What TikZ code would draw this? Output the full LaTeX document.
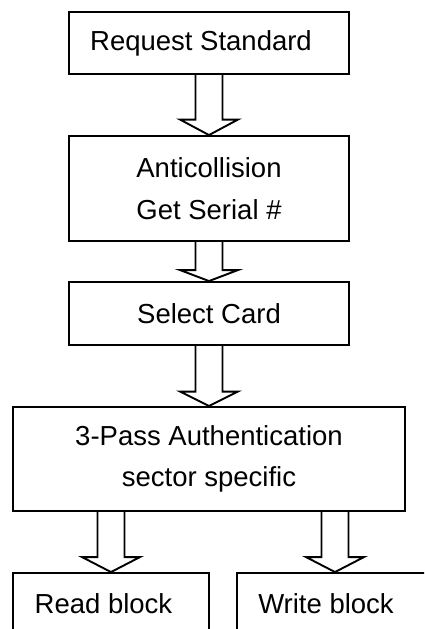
\documentclass[tikz,border=0pt]{standalone}
\usepackage{fontspec}
\setmainfont{Liberation Sans}
\usetikzlibrary{calc}
\newcommand{\blockarrow}[3]{%
\draw ($(#2.north |- #1.south)+(-13.5,0)$)--($(#2.north)+(-13.5,#3)$)--($(#2.north)+(-29,#3)$)--(#2.north)--($(#2.north)+(29,#3)$)--($(#2.north)+(13.5,#3)$)--($(#2.north |- #1.south)+(13.5,0)$);}
\begin{document}
\begin{tikzpicture}[x=1pt,y=1pt,line width=1.9pt,
  box/.style={draw,inner sep=0pt,align=center,minimum width=280,minimum height=62,
    font=\fontsize{27.5}{41.5}\selectfont}]
\useasboundingbox (0,0) rectangle (424,-629);
\clip (0,0) rectangle (424,-629);
\node[box] (req) at (209,-43) {Request Standard\hspace*{16pt}};
\node[box,minimum height=105] (anti) at (209,-188.5) {Anticollision\\Get Serial \#};
\node[box,minimum height=63] (sel) at (209,-313.5) {Select Card};
\node[box,minimum width=392,minimum height=104] (auth) at (209,-459) {3-Pass Authentication\\sector specific};
\node[box,minimum width=196] (rd) at (111,-604) {Read block\hspace*{15pt}};
\node[box,minimum width=196] (wr) at (335,-604) {Write block\hspace*{18pt}};
\blockarrow{req}{anti}{15.5}
\blockarrow{anti}{sel}{11}
\blockarrow{sel}{auth}{14.5}
\blockarrow{auth}{rd}{15}
\blockarrow{auth}{wr}{15}
\end{tikzpicture}
\end{document}
